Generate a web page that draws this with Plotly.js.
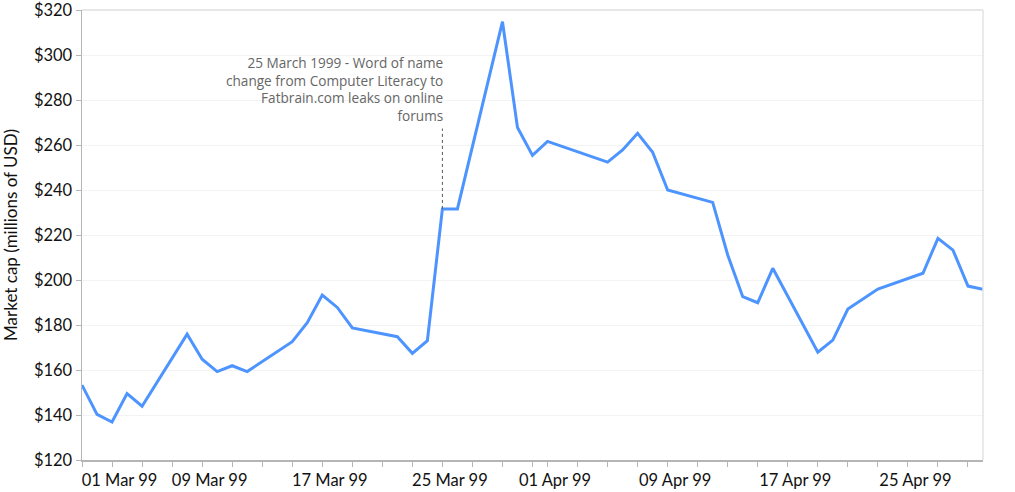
<!DOCTYPE html>
<html>
<head>
<meta charset="utf-8">
<script src="https://cdn.plot.ly/plotly-3.0.1.min.js"></script>
<style>html,body{margin:0;padding:0;background:#fff;}#chart{width:1015px;height:492px;}</style>
</head>
<body>
<div id="chart"></div>
<script>
// Trading days, March–April 1999
const dates = [
  "1999-03-01","1999-03-02","1999-03-03","1999-03-04","1999-03-05",
  "1999-03-08","1999-03-09","1999-03-10","1999-03-11","1999-03-12",
  "1999-03-15","1999-03-16","1999-03-17","1999-03-18","1999-03-19",
  "1999-03-22","1999-03-23","1999-03-24","1999-03-25","1999-03-26",
  "1999-03-29","1999-03-30","1999-03-31",
  "1999-04-01",
  "1999-04-05","1999-04-06","1999-04-07","1999-04-08","1999-04-09",
  "1999-04-12","1999-04-13","1999-04-14","1999-04-15","1999-04-16",
  "1999-04-19","1999-04-20","1999-04-21","1999-04-22","1999-04-23",
  "1999-04-26","1999-04-27","1999-04-28","1999-04-29","1999-04-30"
];
// Market cap, millions of USD
const marketCap = [
  153.3,140.3,136.9,149.5,143.9,
  175.9,164.8,159.3,161.9,159.3,
  172.6,181.0,193.3,187.8,178.7,
  174.8,167.4,173.0,231.6,231.6,
  314.8,267.8,255.4,
  261.6,
  252.4,257.8,265.2,256.8,240.0,
  234.5,211.1,192.6,189.9,205.2,
  167.9,173.3,187.1,191.6,196.0,
  203.0,218.5,213.3,197.3,195.9
];
// X tick labels and where they sit
const xTickVals = ["1999-03-03 12:00","1999-03-09 12:00","1999-03-17 12:00","1999-03-25 12:00",
                   "1999-04-01 12:00","1999-04-09 12:00","1999-04-17 12:00","1999-04-25 12:00"];
const xTickText = ["01 Mar 99","09 Mar 99","17 Mar 99","25 Mar 99",
                   "01 Apr 99","09 Apr 99","17 Apr 99","25 Apr 99"];
// Small tick marks: every other day within each month
const minorTickVals = [];
[["1999-03",31],["1999-04",30]].forEach(function(m){
  for (let d = 1; d <= m[1]; d += 2) minorTickVals.push(m[0] + "-" + String(d).padStart(2,"0"));
});

const eventDate = "1999-03-25";
const eventText = "25 March 1999 - Word of name<br>change from Computer Literacy to<br>Fatbrain.com leaks on online<br>forums";
const eventLabelY = 267.8;

const eventIdx = dates.indexOf(eventDate);

const FONT = "Lato, 'DejaVu Sans', sans-serif";

const trace = {
  type: "scatter",
  mode: "lines",
  x: dates,
  y: marketCap,
  line: {color: "#4D94FF", width: 3},
  hoverinfo: "skip"
};

const layout = {
  width: 1015, height: 492,
  margin: {l: 82, r: 32, t: 10, b: 32},
  paper_bgcolor: "#fff", plot_bgcolor: "#fff",
  showlegend: false,
  font: {family: FONT, size: 16, color: "#111"},
  xaxis: {
    type: "date",
    range: ["1999-03-01", "1999-04-30"],
    tickmode: "array",
    tickvals: xTickVals,
    ticktext: xTickText,
    ticks: "",
    showgrid: false,
    zeroline: false,
    showline: true,
    linecolor: "#b5b5b5",
    linewidth: 1.5,
    tickfont: {family: FONT, size: 16.5, color: "#111"},
    ticklabelstandoff: 5,
    ticklabeloverflow: "allow",
    minor: {
      tickmode: "array",
      tickvals: minorTickVals,
      ticks: "outside",
      ticklen: 5,
      tickcolor: "#b5b5b5",
      tickwidth: 1,
      showgrid: false
    },
    fixedrange: true
  },
  yaxis: {
    range: [120, 320],
    dtick: 20,
    tick0: 120,
    tickprefix: "$",
    ticks: "outside",
    ticklen: 5,
    tickcolor: "#b5b5b5",
    showline: true,
    linecolor: "#b5b5b5",
    linewidth: 1.5,
    showgrid: true,
    gridcolor: "#f3f3f3",
    gridwidth: 1,
    zeroline: false,
    tickfont: {family: FONT, size: 16.5, color: "#111"},
    ticklabeloverflow: "allow",
    title: {text: "Market cap (millions of USD)", font: {family: FONT, size: 17, color: "#111"}, standoff: 16},
    automargin: false,
    fixedrange: true
  },
  shapes: [
    {type: "line", xref: "paper", yref: "paper", x0: 0, x1: 1, y0: 1, y1: 1,
     line: {color: "#e6e6e6", width: 2}},
    {type: "line", xref: "paper", yref: "paper", x0: 1, x1: 1, y0: 0, y1: 1,
     line: {color: "#e3e3e3", width: 1.5}},
    {type: "line", xref: "x", yref: "y", x0: eventDate, x1: eventDate,
     y0: marketCap[eventIdx], y1: eventLabelY - 0.5,
     line: {color: "#555", width: 1, dash: "dot"}}
  ],
  annotations: [
    {xref: "x", yref: "y", x: eventDate, y: eventLabelY, xshift: 3,
     xanchor: "right", yanchor: "bottom", align: "right",
     showarrow: false, text: eventText,
     font: {family: "'Open Sans', sans-serif", size: 13.6, color: "#666"}}
  ]
};

Plotly.newPlot("chart", [trace], layout, {staticPlot: true, displayModeBar: false});
</script>
</body>
</html>
